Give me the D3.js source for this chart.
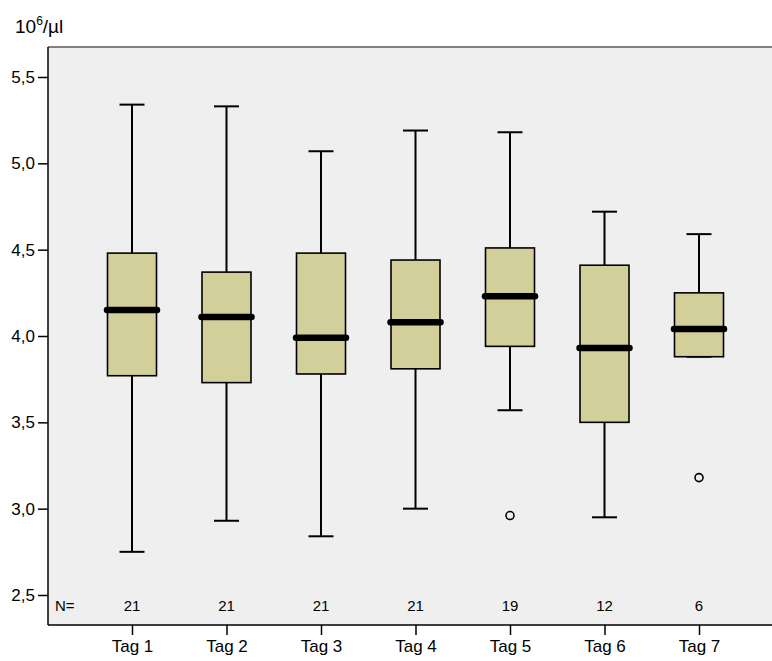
<!DOCTYPE html>
<html>
<head>
<meta charset="utf-8">
<script src="https://cdn.jsdelivr.net/npm/d3@7"></script>
<style>
  body { margin: 0; background: #fff; }
  text { font-family: "Liberation Sans", Arial, sans-serif; fill: #000; }
</style>
</head>
<body>
<svg id="svg1" width="772" height="661"></svg>
<script>
// box plot values
var days = ["Tag 1","Tag 2","Tag 3","Tag 4","Tag 5","Tag 6","Tag 7"]
var mins    = [2.75, 2.93, 2.84, 3.00, 3.57, 2.95, 3.88]
var q1s     = [3.77, 3.73, 3.78, 3.81, 3.94, 3.50, 3.88]
var medians = [4.15, 4.11, 3.99, 4.08, 4.23, 3.93, 4.04]
var q3s     = [4.48, 4.37, 4.48, 4.44, 4.51, 4.41, 4.25]
var maxs    = [5.34, 5.33, 5.07, 5.19, 5.18, 4.72, 4.59]
var counts  = [21, 21, 21, 21, 19, 12, 6]
var outliers = [{day:"Tag 5", v:2.96}, {day:"Tag 7", v:3.18}]
var yTicks = [2.5, 3.0, 3.5, 4.0, 4.5, 5.0, 5.5]

var svg = d3.select("#svg1")
var pLeft = 48, pTop = 47, pRight = 772, pBottom = 625

var x = d3.scalePoint().domain(days).range([132, 699])
var y = d3.scaleLinear().domain([2.5, 5.5]).range([595, 77])
var fmt = d => d3.format(".1f")(d).replace(".", ",")

// plot background
svg.append("rect")
   .attr("x", pLeft).attr("y", pTop)
   .attr("width", pRight-pLeft).attr("height", pBottom-pTop)
   .style("fill", "#efefef")
svg.append("line")
   .attr("x1", pLeft).attr("x2", pRight).attr("y1", pTop).attr("y2", pTop)
   .style("stroke", "#808080").style("stroke-width", 2)

var data = days.map((d,i) => ({day:d, min:mins[i], q1:q1s[i], med:medians[i], q3:q3s[i], max:maxs[i], n:counts[i]}))
var boxW = 49, capW = 25

var g = svg.selectAll(".box").data(data).join("g").attr("class","box")

g.append("line")
 .attr("x1", d => x(d.day)).attr("x2", d => x(d.day))
 .attr("y1", d => y(d.max)).attr("y2", d => y(d.min))
 .style("stroke","#000").style("stroke-width",2)
g.append("line")
 .attr("x1", d => x(d.day)-capW/2).attr("x2", d => x(d.day)+capW/2)
 .attr("y1", d => y(d.max)).attr("y2", d => y(d.max))
 .style("stroke","#000").style("stroke-width",2)
g.append("line")
 .attr("x1", d => x(d.day)-capW/2).attr("x2", d => x(d.day)+capW/2)
 .attr("y1", d => y(d.min)).attr("y2", d => y(d.min))
 .style("stroke","#000").style("stroke-width",2)
g.append("rect")
 .attr("x", d => x(d.day)-boxW/2).attr("width", boxW)
 .attr("y", d => y(d.q3)).attr("height", d => y(d.q1)-y(d.q3))
 .style("fill","#d3cf9a").style("stroke","#000").style("stroke-width",1.6)
g.append("line")
 .attr("x1", d => x(d.day)-boxW/2-0.5).attr("x2", d => x(d.day)+boxW/2+0.5)
 .attr("y1", d => y(d.med)).attr("y2", d => y(d.med))
 .style("stroke","#000").style("stroke-width",6.5).style("stroke-linecap","round")

svg.selectAll(".outlier").data(outliers).join("circle")
   .attr("class","outlier")
   .attr("cx", d => x(d.day)).attr("cy", d => y(d.v)).attr("r", 4)
   .style("fill","none").style("stroke","#000").style("stroke-width",1.6)

// N row
svg.append("text").attr("x", 55).attr("y", 611).style("font-size","15px").text("N=")
svg.selectAll(".n").data(data).join("text")
   .attr("class","n")
   .attr("x", d => x(d.day)).attr("y", 611)
   .attr("text-anchor","middle").style("font-size","15px")
   .text(d => d.n)

// axes
svg.append("line").attr("x1", pLeft).attr("x2", pLeft).attr("y1", pTop).attr("y2", pBottom)
   .style("stroke","#000").style("stroke-width",1.5)
svg.append("line").attr("x1", pLeft).attr("x2", pRight).attr("y1", pBottom).attr("y2", pBottom)
   .style("stroke","#000").style("stroke-width",1.5)

var yAxis = svg.append("g").attr("transform", "translate(" + pLeft + ",0)")
  .call(d3.axisLeft(y).tickValues(yTicks).tickFormat(fmt).tickSize(10).tickPadding(3))
yAxis.select(".domain").remove()
yAxis.selectAll("line").style("stroke-width",1.5)
yAxis.selectAll("text").style("font-size","17px").style("font-family","Liberation Sans, Arial, sans-serif")

var xAxis = svg.append("g").attr("transform", "translate(0," + pBottom + ")")
  .call(d3.axisBottom(x).tickSize(10).tickPadding(5))
xAxis.select(".domain").remove()
xAxis.selectAll("line").style("stroke-width",1.5)
xAxis.selectAll("text").style("font-size","17px").style("font-family","Liberation Sans, Arial, sans-serif")

// unit label
var unit = svg.append("text").attr("x", 15).attr("y", 33).style("font-size","19px")
unit.append("tspan").text("10")
unit.append("tspan").attr("dy", -8).style("font-size","12px").text("6")
unit.append("tspan").attr("dy", 8).text("/µl")
</script>
</body>
</html>
